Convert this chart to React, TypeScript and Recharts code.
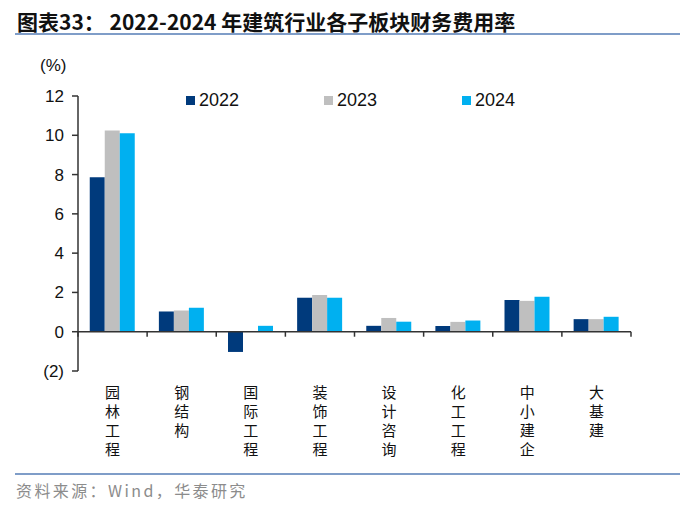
import { Bar, BarChart, ReferenceLine, XAxis, YAxis } from 'recharts';

const categories = ['园林工程', '钢结构', '国际工程', '装饰工程', '设计咨询', '化工工程', '中小建企', '大基建'];
const rate2022 = [7.86, 1.03, -1.03, 1.73, 0.3, 0.29, 1.61, 0.64];
const rate2023 = [10.25, 1.08, 0.02, 1.87, 0.7, 0.5, 1.57, 0.64];
const rate2024 = [10.1, 1.22, 0.3, 1.73, 0.51, 0.57, 1.78, 0.76];
const yTicks = [-2, 0, 2, 4, 6, 8, 10, 12];

const series = [
  { key: 'y2022', label: '2022', color: '#003A7C' },
  { key: 'y2023', label: '2023', color: '#BFBFBF' },
  { key: 'y2024', label: '2024', color: '#00B0F0' },
];

const data = categories.map((category, i) => ({
  category,
  y2022: rate2022[i],
  y2023: rate2023[i],
  y2024: rate2024[i],
}));

const W = 700;
const H = 508;
const PLOT_LEFT = 78;
const PLOT_RIGHT = 631;
const PLOT_TOP = 96;
const PLOT_BOTTOM = 371;
const Y_MIN = -2;
const Y_MAX = 12;
const AXIS_FONT = '"Liberation Sans", Arial, sans-serif';
const CJK_FONT = '"Noto Sans CJK SC", "Noto Sans", sans-serif';

const band = (PLOT_RIGHT - PLOT_LEFT) / categories.length;
const zeroY = PLOT_TOP + ((PLOT_BOTTOM - PLOT_TOP) * Y_MAX) / (Y_MAX - Y_MIN);

function formatTick(v: number): string {
  return v < 0 ? `(${Math.abs(v)})` : String(v);
}

function CategoryTick(props: any) {
  const { x, payload, index } = props;
  const chars = String(payload.value).split('');
  return (
    <g>
      <line x1={x - band / 2} x2={x - band / 2} y1={zeroY} y2={zeroY + 5} stroke="#333" strokeWidth={1.5} />
      {index === categories.length - 1 && (
        <line x1={x + band / 2} x2={x + band / 2} y1={zeroY} y2={zeroY + 5} stroke="#333" strokeWidth={1.5} />
      )}
      <text x={x} y={393} textAnchor="middle" fontFamily={CJK_FONT} fontSize={15} fill="#111">
        {chars.map((c, i) => (
          <tspan key={i} x={x} dy={i === 0 ? 5 : 19}>
            {c}
          </tspan>
        ))}
      </text>
    </g>
  );
}

function ChartLegend() {
  return (
    <div
      style={{
        position: 'absolute',
        left: 186,
        top: 90,
        display: 'flex',
        fontFamily: AXIS_FONT,
        fontSize: 18,
        color: '#111',
      }}
    >
      {series.map((s) => (
        <div key={s.key} style={{ display: 'flex', alignItems: 'center', width: 138 }}>
          <span style={{ width: 9, height: 9, background: s.color, marginRight: 4, display: 'inline-block' }} />
          <span>{s.label}</span>
        </div>
      ))}
    </div>
  );
}

export default function App() {
  return (
    <div style={{ position: 'absolute', left: 0, top: 0, width: W, height: H, background: '#fff' }}>
      <div
        style={{
          position: 'absolute',
          left: 17,
          top: 6,
          fontFamily: CJK_FONT,
          fontWeight: 700,
          fontSize: 21,
          color: '#111',
          whiteSpace: 'nowrap',
        }}
      >
        图表33： 2022-2024 年建筑行业各子板块财务费用率
      </div>
      <div style={{ position: 'absolute', left: 15, top: 33, width: 665, height: 2, background: '#7F9DC8' }} />
      <div style={{ position: 'absolute', left: 40, top: 56, fontFamily: AXIS_FONT, fontSize: 17, color: '#111' }}>
        (%)
      </div>
      <BarChart
        width={W}
        height={H}
        data={data}
        margin={{ top: PLOT_TOP, right: W - PLOT_RIGHT, left: 18, bottom: H - PLOT_BOTTOM - 90 }}
        barCategoryGap="17%"
        barGap={0}
      >
        <XAxis
          dataKey="category"
          axisLine={false}
          tickLine={false}
          interval={0}
          height={90}
          tick={<CategoryTick />}
        />
        <YAxis
          width={60}
          domain={[Y_MIN, Y_MAX]}
          ticks={yTicks}
          tickFormatter={formatTick}
          axisLine={{ stroke: '#333', strokeWidth: 1.5 }}
          tickLine={{ stroke: '#333', strokeWidth: 1.5 }}
          tickSize={6}
          tickMargin={8}
          tick={{ fontFamily: AXIS_FONT, fontSize: 17, fill: '#111' }}
          allowDataOverflow
        />
        <ReferenceLine y={0} stroke="#333" strokeWidth={1.5} />
        {series.map((s) => (
          <Bar key={s.key} dataKey={s.key} name={s.label} fill={s.color} isAnimationActive={false} />
        ))}
      </BarChart>
      <ChartLegend />
      <div style={{ position: 'absolute', left: 15, top: 473, width: 665, height: 2, background: '#7F9DC8' }} />
      <div
        style={{
          position: 'absolute',
          left: 16,
          top: 478,
          fontFamily: CJK_FONT,
          fontSize: 16,
          letterSpacing: 2.4,
          color: '#8C8C8C',
          whiteSpace: 'nowrap',
        }}
      >
        资料来源：Wind，华泰研究
      </div>
    </div>
  );
}
